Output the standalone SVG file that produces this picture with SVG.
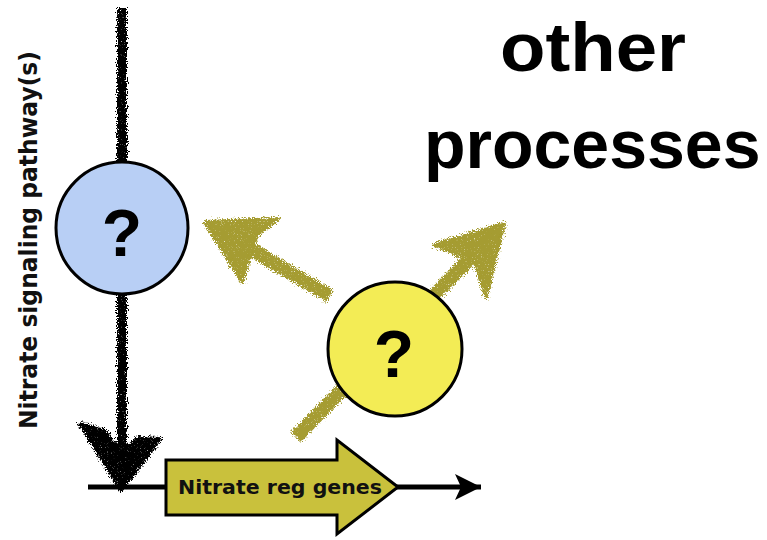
<svg xmlns="http://www.w3.org/2000/svg" width="767" height="540" viewBox="0 0 767 540">
  <style>
    .title { font-family: "Liberation Sans", Arial, sans-serif; font-weight: bold; font-size: 68px; fill: #000; }
    .label { font-family: "DejaVu Sans", "Liberation Sans", sans-serif; font-weight: bold; fill: #111; }
    .qmark { font-family: "Liberation Sans", Arial, sans-serif; font-weight: bold; font-size: 66px; fill: #000; text-anchor: middle; }
    .node { stroke: #000; stroke-width: 3; }
    .olive { fill: #a59c30; stroke: #a59c30; }
  </style>
  <defs>
    <!-- rough, chalk-like edges and light grain for the hand-drawn arrows -->
    <filter id="chalk" x="-20%" y="-20%" width="140%" height="140%">
      <feTurbulence type="fractalNoise" baseFrequency="0.8" numOctaves="2" seed="4" result="noise"/>
      <feDisplacementMap in="SourceGraphic" in2="noise" scale="9" xChannelSelector="R" yChannelSelector="G" result="rough"/>
      <feTurbulence type="fractalNoise" baseFrequency="1.3" numOctaves="1" seed="9" result="grain"/>
      <feColorMatrix in="grain" type="matrix" values="0 0 0 0 0  0 0 0 0 0  0 0 0 0 0  0 0 0 -4 3.6" result="mask"/>
      <feComposite in="rough" in2="mask" operator="in"/>
    </filter>
    <marker id="lineHead" markerWidth="30" markerHeight="30" refX="26" refY="13" orient="auto" markerUnits="userSpaceOnUse">
      <path d="M0,0 L26,13 L0,26 L6,13 Z" fill="#000"/>
    </marker>
  </defs>

  <rect width="767" height="540" fill="#fff"/>

  <!-- title -->
  <g id="other-processes">
    <text class="title" x="500" y="71" textLength="186" lengthAdjust="spacingAndGlyphs">other</text>
    <text class="title" x="424" y="168">processes</text>
  </g>

  <!-- pathway axis label -->
  <g id="pathway-label">
    <text class="label" font-size="24" text-anchor="middle" transform="translate(37,240) rotate(-90)" textLength="378" lengthAdjust="spacingAndGlyphs">Nitrate signaling pathway(s)</text>
  </g>

  <g id="connectors">
    <!-- signaling pathway down to the genes -->
    <g filter="url(#chalk)">
      <line x1="122" y1="8" x2="122" y2="470" stroke="#000" stroke-width="10"/>
      <path d="M121,490 L80,424 L104,431 L121,452 L139,438 L160,439 Z" fill="#000" stroke="#000" stroke-width="4" stroke-linejoin="round"/>
    </g>
    <!-- outputs of the second unknown -->
    <g class="olive" filter="url(#chalk)">
      <line x1="330" y1="296" x2="222" y2="232" stroke-width="14"/>
      <path d="M205,222 L278,219 L256,236 L242,282 Z" stroke-width="4" stroke-linejoin="round"/>
      <line x1="296" y1="437" x2="490" y2="238" stroke-width="14"/>
      <path d="M504,224 L486,297 L475,262 L434,245 Z" stroke-width="4" stroke-linejoin="round"/>
    </g>
    <!-- gene axis -->
    <line x1="88" y1="487" x2="481" y2="487" stroke="#000" stroke-width="5" marker-end="url(#lineHead)"/>
  </g>

  <g id="unknown-blue">
    <circle class="node" cx="122" cy="228" r="66" fill="#b8cff5"/>
    <text class="qmark" x="122" y="256">?</text>
  </g>

  <g id="unknown-yellow">
    <circle class="node" cx="395" cy="349" r="67" fill="#f3ec55"/>
    <text class="qmark" x="394" y="377">?</text>
  </g>

  <g id="nitrate-reg-genes">
    <path class="node" d="M166,460 L337,460 L337,440 L398,487 L337,534 L337,515 L166,515 Z" fill="#c9c13c" stroke-linejoin="miter"/>
    <text class="label" font-size="20" x="178" y="494" textLength="204" lengthAdjust="spacingAndGlyphs">Nitrate reg genes</text>
  </g>
</svg>
